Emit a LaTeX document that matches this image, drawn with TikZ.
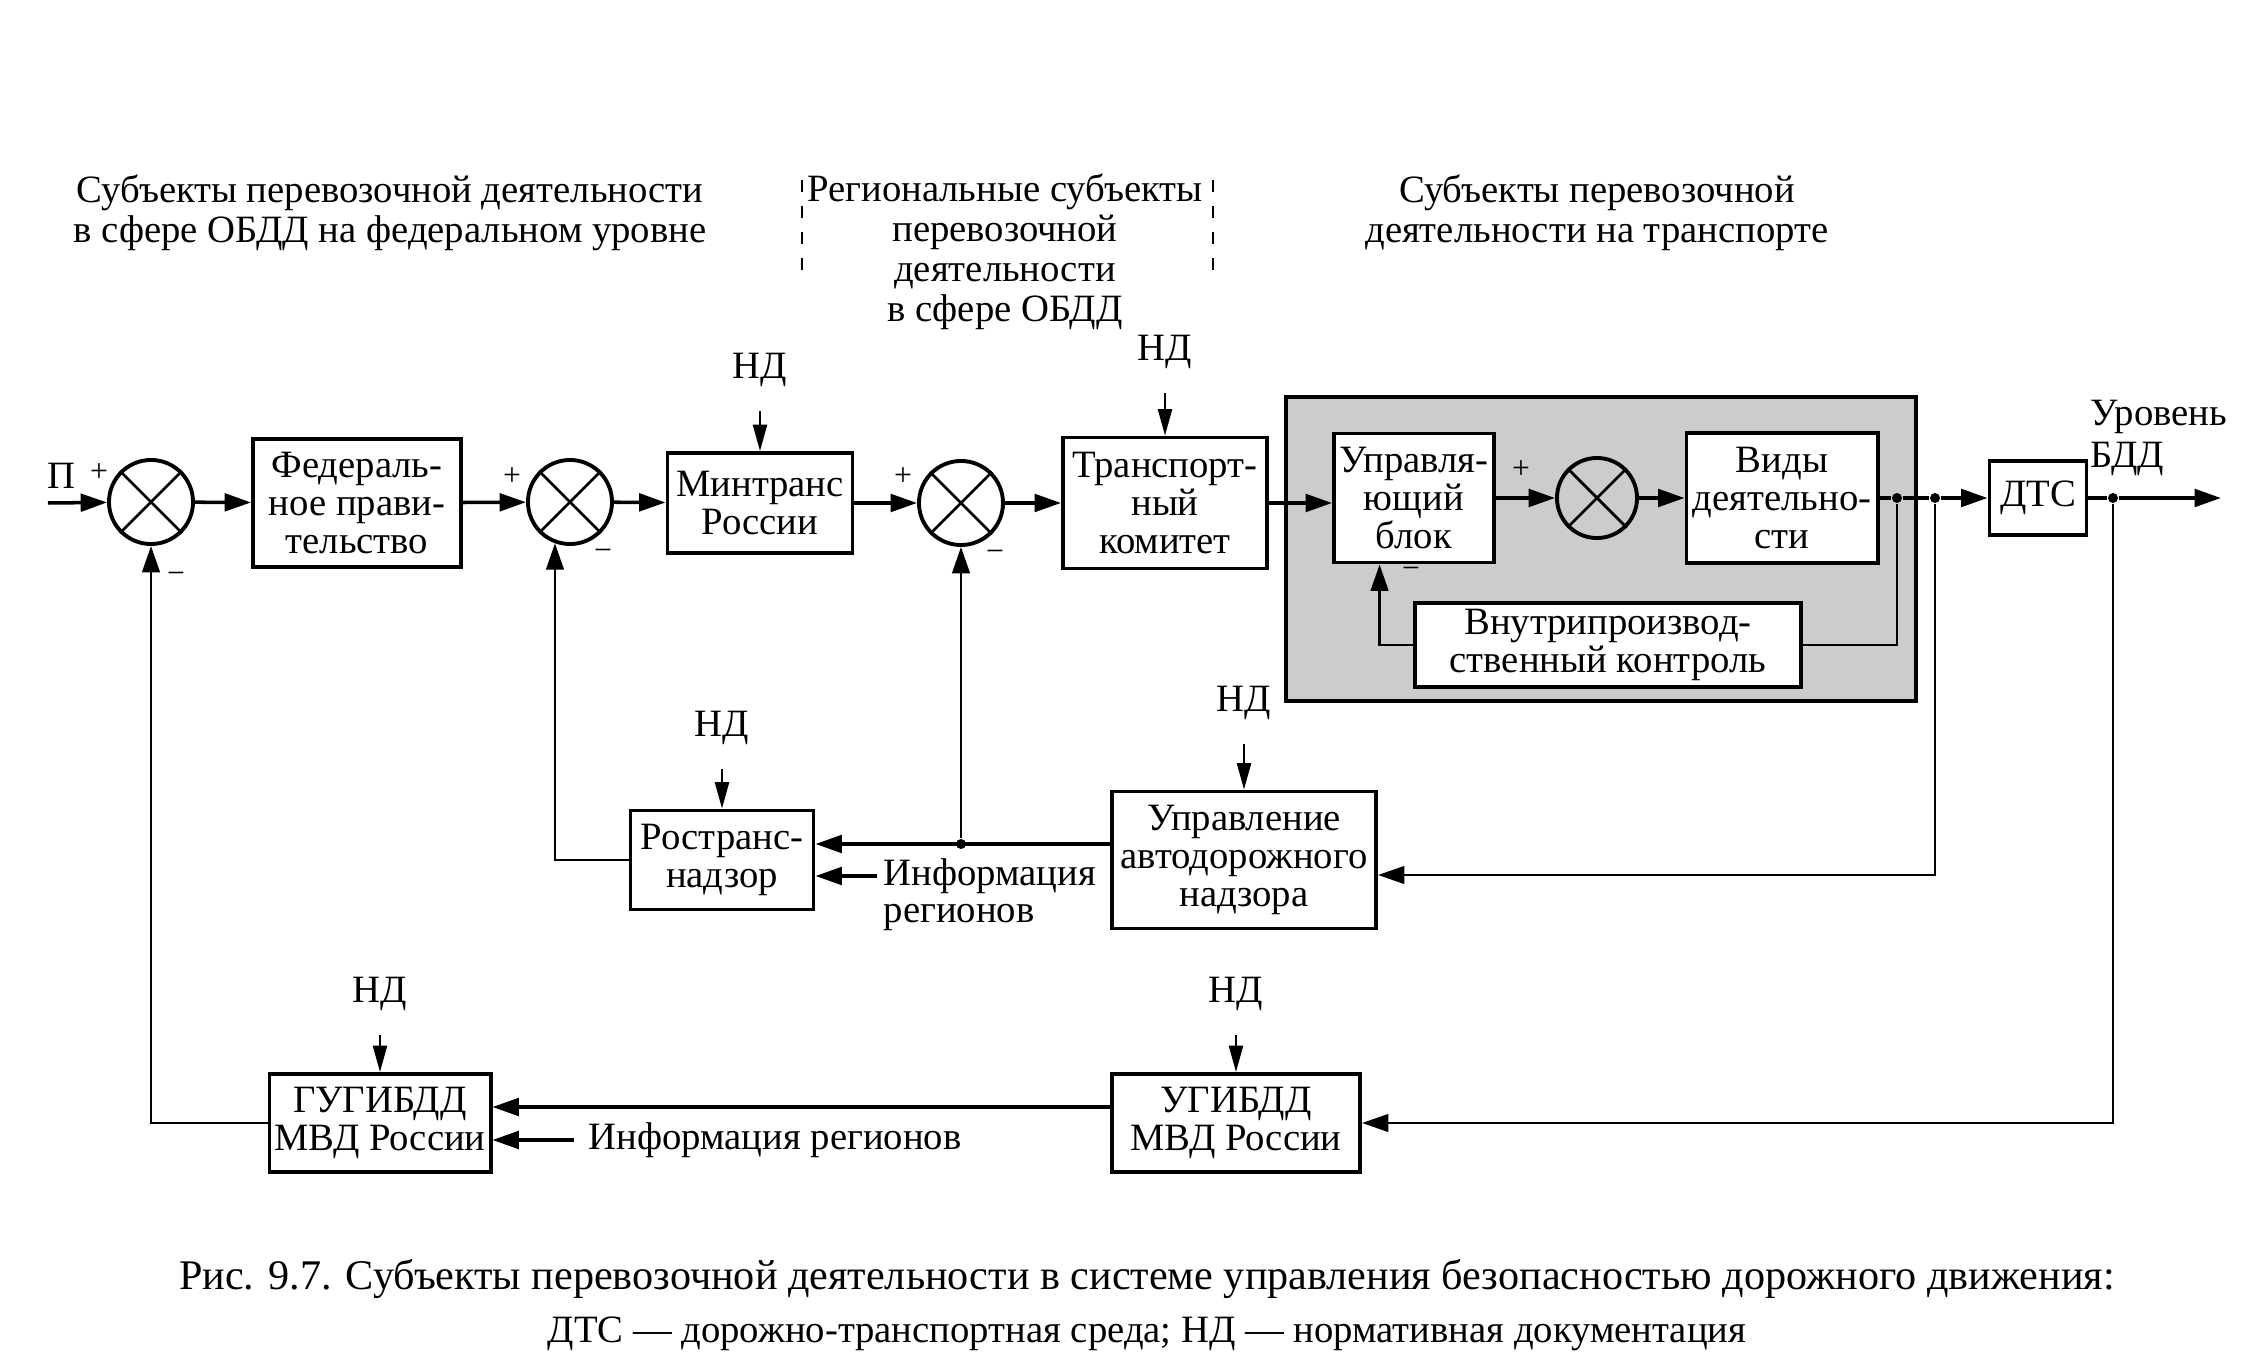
\documentclass[tikz,border=0pt]{standalone}
\usepackage{fontspec}
\setmainfont{Liberation Serif}
\usetikzlibrary{arrows.meta,calc}
\begin{document}
\begin{tikzpicture}[x=0.01cm,y=-0.01cm,
  every node/.style={font=\fontsize{11}{10.8}\selectfont},
  box/.style={draw,line width=1.1pt,align=center,inner sep=0pt,fill=white},
  sumj/.style={draw,circle,line width=1.1pt,minimum size=0.84cm,inner sep=0pt},
  arr/.style={-{Triangle[length=7.5pt,width=5pt]},line width=1pt},
  farr/.style={-{Triangle[length=7.5pt,width=5pt]},line width=0.7pt},
  ndarr/.style={-{Triangle[length=7.5pt,width=4pt]},line width=0.6pt},
  dot/.style={circle,fill,inner sep=0pt,minimum size=0.1cm},
  lbl/.style={font=\fontsize{11}{11.4}\selectfont,align=center},
  sgn/.style={font=\fontsize{9}{9}\selectfont,inner sep=0pt},
  dline/.style={line width=0.5pt,dash pattern=on 0.12cm off 0.14cm},
]
\useasboundingbox (0,0) rectangle (2244,1355);

% headers
\node[lbl] (h1) at (390,213) {Субъекты перевозочной деятельности\\в сфере ОБДД на федеральном уровне};
\node[lbl] (h2) at (1005,252) {Региональные субъекты\\перевозочной\\деятельности\\в сфере ОБДД};
\node[lbl] (h3) at (1597,213) {Субъекты перевозочной\\деятельности на транспорте};
\draw[dline] (802,180) -- (802,277);
\draw[dline] (1213,180) -- (1213,277);

% shaded enterprise block
\node[draw,line width=1.2pt,fill=black!20,minimum width=6.30cm,minimum height=3.04cm,inner sep=0pt] (gray) at (1601,549) {};

% main row
\coordinate (in) at (48,503);
\node[sumj] (s1) at (151,502) {};
\node[box,minimum width=2.08cm,minimum height=1.28cm] (fed) at (357,503) {Федераль-\\ное прави-\\тельство};
\node[sumj] (s2) at (570,502) {};
\node[box,minimum width=1.85cm,minimum height=1.0cm] (min) at (760,503) {Минтранс\\России};
\node[sumj] (s3) at (961,503) {};
\node[box,minimum width=2.04cm,minimum height=1.31cm] (tk) at (1165,503) {Транспорт-\\ный\\комитет};
\node[box,minimum width=1.60cm,minimum height=1.29cm] (ub) at (1414,498) {Управля-\\ющий\\блок};
\node[sumj,minimum size=0.80cm] (s4) at (1597,498) {};
\node[box,minimum width=1.91cm,minimum height=1.30cm] (vd) at (1782,498) {Виды\\деятельно-\\сти};
\node[box,minimum width=3.86cm,minimum height=0.84cm] (vk) at (1608,645) {Внутрипроизвод-\\ственный контроль};
\node[box,minimum width=0.97cm,minimum height=0.74cm] (dts) at (2038,498) {ДТС};
\node[dot] (d1) at (1897,498) {};
\node[dot] (d2) at (1935,498) {};
\node[dot] (d3) at (2113,498) {};
\coordinate (out) at (2221,498);
\node[anchor=west,align=left,font=\fontsize{11}{12.2}\selectfont,inner sep=0pt] (lvl) at (2090,438) {Уровень\\БДД};

% crosses in the summing junctions
\foreach \s in {s1,s2,s3,s4}{
  \draw[line width=0.8pt] (\s.north west) -- (\s.south east);
  \draw[line width=0.8pt] (\s.north east) -- (\s.south west);
}

% signs
\node (p) at (61,476) {П};
\node[sgn] at (99,473) {+};
\node[sgn] at (176,578) {\textminus};
\node[sgn] at (512,477) {+};
\node[sgn] at (603,555) {\textminus};
\node[sgn] at (903,477) {+};
\node[sgn] at (995,556) {\textminus};
\node[sgn] at (1521,470) {+};
\node[sgn] at (1411,573) {\textminus};

% second row
\node[box,minimum width=1.83cm,minimum height=0.99cm] (rn) at (722,860) {Ространс-\\надзор};
\node[box,minimum width=2.64cm,minimum height=1.37cm] (uan) at (1244,860) {Управление\\автодорожного\\надзора};
\node[dot] (d4) at (961,844) {};
\node[anchor=west,inner sep=0pt] (info1) at (883,876) {Информация};
\node[anchor=west,inner sep=0pt] (info1b) at (883,918) {регионов};

% third row
\node[box,minimum width=2.21cm,minimum height=0.98cm] (gu) at (380,1123) {ГУГИБДД\\МВД России};
\node[box,minimum width=2.48cm,minimum height=0.98cm] (ug) at (1236,1123) {УГИБДД\\МВД России};
\node[anchor=west,inner sep=0pt] (info2) at (588,1140) {Информация регионов};
\coordinate (ugw) at ($(ug.west)+(0,-16)$);

% НД inputs
\node (nd1) at (760,370) {НД};
\node (nd2) at (1165,352) {НД};
\node (nd3) at (722,728) {НД};
\node (nd4) at (1244,703) {НД};
\node (nd5) at (380,994) {НД};
\node (nd6) at (1236,994) {НД};
\draw[ndarr] (nd1.south) ++(0,12) -- (min.north);
\draw[ndarr] (nd2.south) ++(0,12) -- (tk.north);
\draw[ndarr] (nd3.south) ++(0,12) -- (rn.north);
\draw[ndarr] (nd4.south) ++(0,12) -- (uan.north);
\draw[ndarr] (nd5.south) ++(0,12) -- (gu.north);
\draw[ndarr] (nd6.south) ++(0,12) -- (ug.north);

% forward path
\draw[arr] (in) -- (s1);
\draw[arr] (s1) -- (fed);
\draw[arr] (fed) -- (s2);
\draw[arr] (s2) -- (min);
\draw[arr] (min) -- (s3);
\draw[arr] (s3) -- (tk);
\draw[arr] (tk.east) -- (tk.east -| ub.west);
\draw[arr] (ub) -- (s4);
\draw[arr] (s4) -- (vd);
\draw[line width=1pt] (vd.east) -- (d1) -- (d2);
\draw[arr] (d2) -- (dts);
\draw[line width=1pt] (dts) -- (d3);
\draw[arr] (d3) -- (out);

% inner feedback
\draw[line width=0.7pt] (d1) |- (vk.east);
\draw[farr] (vk.west) -| ($(ub.south west)!0.29!(ub.south east)$);

% outer feedbacks
\draw[farr] (d2) |- ($(uan.east)+(0,15)$);
\draw[arr] (uan.west |- d4) -- (rn.east |- d4);
\draw[farr] (d4) -- (s3.south);
\draw[arr] (info1.west) ++(-6,0) -- (info1.west -| rn.east);
\draw[farr] (rn.west) -| (s2.250);
\draw[farr] (d3) |- (ug.east);
\draw[arr] (ugw) -- (ugw -| gu.east);
\draw[arr] (info2.west) ++(-14,0) -- (info2.west -| gu.east);
\draw[farr] (gu.west) -| (s1.south);

% caption
\node[align=center,font=\fontsize{12}{15}\selectfont] (cap) at (1147,1305) {Рис. 9.7. Субъекты перевозочной деятельности в системе управления безопасностью дорожного движения:\\{\fontsize{11}{15}\selectfont ДТС — дорожно-транспортная среда; НД — нормативная документация}};
\end{tikzpicture}
\end{document}
